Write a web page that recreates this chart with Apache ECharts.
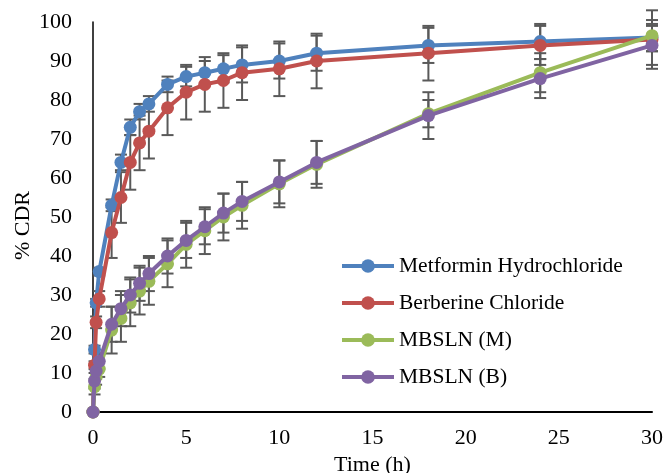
<!DOCTYPE html>
<html>
<head>
<meta charset="utf-8">
<script src="https://cdn.jsdelivr.net/npm/echarts@6/dist/echarts.min.js"></script>
<style>
html,body{margin:0;padding:0;background:#fff;}
#chart{width:667px;height:473px;}
</style>
</head>
<body>
<div id="chart"></div>
<script>
// Time points (h)
const times = [0, 0.083, 0.167, 0.333, 1, 1.5, 2, 2.5, 3, 4, 5, 6, 7, 8, 10, 12, 18, 24, 30];
const seriesNames = ['Metformin Hydrochloride', 'Berberine Chloride', 'MBSLN (M)', 'MBSLN (B)'];
// % CDR values
const metformin = [0, 16, 28, 36, 53, 64, 73, 77, 79, 84, 86, 87, 88, 89, 90, 92, 94, 95, 96];
const berberine = [0, 12, 23, 29, 46, 55, 64, 69, 72, 78, 82, 84, 85, 87, 88, 90, 92, 94, 95.5];
const mbslnM = [0, 6.5, 9, 11, 21, 24, 28, 31, 33.5, 38, 43, 46.5, 50, 53, 58.5, 63.5, 76.5, 87, 96.5];
const mbslnB = [0, 8, 10.5, 13, 22.5, 26.5, 30, 33, 35.5, 40, 44, 47.5, 51, 54, 59, 64, 76, 85.5, 94];
// error (± SD)
const metforminErr = [0, 1, 1, 1, 1.5, 2, 2, 2, 2, 2, 2.5, 3, 3.5, 4.5, 4.5, 4.5, 4.5, 4.5, 3.5];
const berberineErr = [0, 1, 1.5, 2, 6.5, 6.5, 7, 7, 7, 7, 7, 7, 7, 7, 7, 7, 7, 5, 7.5];
const mbslnMErr = [0, 2, 2, 2, 6, 6, 6, 6, 6, 6, 6, 6, 6, 6, 6, 6, 3.5, 5, 4];
const mbslnBErr = [0, 2, 2, 2, 4.5, 4.5, 4.5, 4.5, 4.5, 4.5, 4.5, 4.5, 5, 5, 5.5, 5.5, 6, 5, 5];
// axis ticks
const xTicks = {min: 0, max: 30, interval: 5};
const yTicks = {min: 0, max: 100, interval: 10};

const colors = ['#4F81BD', '#C0504D', '#9BBB59', '#8064A2'];
const values = [metformin, berberine, mbslnM, mbslnB];
const errs = [metforminErr, berberineErr, mbslnMErr, mbslnBErr];
const FONT = '"Liberation Serif", "Times New Roman", serif';

const series = [];
values.forEach((vals, i) => {
  series.push({
    type: 'custom',
    name: seriesNames[i] + ' err',
    z: 1,
    silent: true,
    data: times.map((t, k) => [t, vals[k] - errs[i][k], vals[k] + errs[i][k]]).filter((d, k) => errs[i][k] > 0),
    renderItem: function (params, api) {
      const x = api.value(0);
      const lo = api.coord([x, api.value(1)]);
      const hi = api.coord([x, api.value(2)]);
      const h = 6;
      const st = {stroke: '#595959', lineWidth: 2};
      return {
        type: 'group',
        children: [
          {type: 'line', shape: {x1: lo[0], y1: lo[1], x2: hi[0], y2: hi[1]}, style: st},
          {type: 'line', shape: {x1: hi[0] - h, y1: hi[1], x2: hi[0] + h, y2: hi[1]}, style: st},
          {type: 'line', shape: {x1: lo[0] - h, y1: lo[1], x2: lo[0] + h, y2: lo[1]}, style: st}
        ]
      };
    }
  });
});
values.forEach((vals, i) => {
  series.push({
    type: 'line',
    name: seriesNames[i],
    z: 2 + i,
    data: times.map((t, k) => [t, vals[k]]),
    symbol: 'circle',
    symbolSize: 13,
    showSymbol: true,
    lineStyle: {color: colors[i], width: 4},
    itemStyle: {color: colors[i]},
    emphasis: {disabled: true},
    animation: false
  });
});

const chart = echarts.init(document.getElementById('chart'));
chart.setOption({
  animation: false,
  backgroundColor: '#fff',
  grid: {left: 93, right: 15, top: 22, bottom: 61, containLabel: false, outerBoundsMode: 'none'},
  xAxis: {
    type: 'value',
    min: xTicks.min, max: xTicks.max, interval: xTicks.interval,
    name: 'Time (h)', nameLocation: 'middle', nameGap: 40,
    nameTextStyle: {fontFamily: FONT, fontSize: 22, color: '#000'},
    axisLine: {show: true, onZero: false, lineStyle: {color: '#000', width: 2}},
    axisTick: {show: false},
    splitLine: {show: false},
    axisLabel: {fontFamily: FONT, fontSize: 22, color: '#000', margin: 15}
  },
  yAxis: {
    type: 'value',
    min: yTicks.min, max: yTicks.max, interval: yTicks.interval,
    axisLine: {show: true, lineStyle: {color: '#000', width: 1.5}},
    axisTick: {show: false},
    splitLine: {show: false},
    axisLabel: {fontFamily: FONT, fontSize: 22, color: '#000', margin: 21}
  },
  legend: {
    data: seriesNames,
    orient: 'vertical',
    left: 335, top: 250,
    itemWidth: 52, itemHeight: 17, itemGap: 15,
    lineStyle: {width: 4},
    textStyle: {fontFamily: FONT, fontSize: 21.5, color: '#000', lineHeight: 22},
    selectedMode: false
  },
  graphic: [{
    type: 'text',
    left: 12, top: 191,
    rotation: Math.PI / 2,
    style: {text: '% CDR', font: '22px ' + FONT, fill: '#000'}
  }],
  series: series
});
</script>
</body>
</html>
